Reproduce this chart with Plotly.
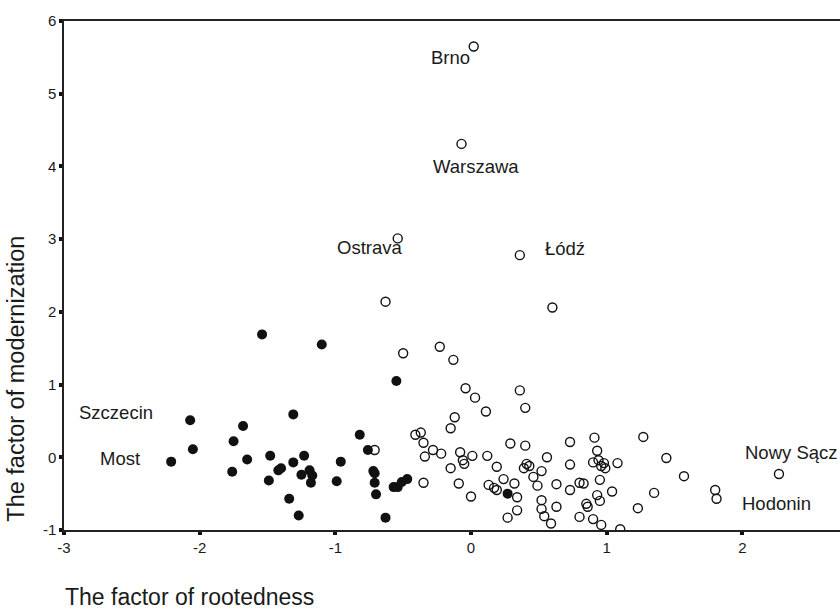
import plotly.graph_objects as go

# Filled circles
filled_x = [-2.07, -2.05, -2.21, -1.68, -1.75, -1.65, -1.76, -1.54, -1.10, -0.55, -1.31, -0.82, -0.76,
            -1.48, -1.23, -1.31, -0.96, -1.42, -1.40, -1.49, -1.25, -1.19, -1.17, -1.18, -0.99, -0.72,
            -0.71, -0.71, -0.70, -1.34, -1.27, -0.63, -0.57, -0.54, -0.51, -0.47, 0.27]
filled_y = [0.51, 0.11, -0.06, 0.43, 0.22, -0.03, -0.20, 1.69, 1.55, 1.05, 0.59, 0.31, 0.10,
            0.02, 0.02, -0.07, -0.06, -0.18, -0.15, -0.32, -0.24, -0.18, -0.25, -0.35, -0.33, -0.19,
            -0.22, -0.35, -0.51, -0.57, -0.80, -0.83, -0.41, -0.41, -0.34, -0.30, -0.50]

# Open circles
open_x = [0.02, -0.07, -0.54, 0.36, -0.63, 0.60,
          -0.71, -0.50, -0.23, -0.13, -0.41, -0.37, -0.35, -0.28, -0.22, -0.34, -0.35, -0.15, -0.15,
          -0.04, 0.03, 0.11, -0.12, 0.36, 0.40, -0.08, -0.06, -0.05, 0.01, 0.12, -0.09, 0.00, 0.19,
          0.24, 0.13, 0.17, 0.19, 0.29, 0.32, 0.34, 0.34, 0.27, 0.40, 0.41, 0.43, 0.39, 0.46, 0.49,
          0.52, 0.56, 0.52, 0.52, 0.54, 0.59, 0.63, 0.63, 0.73, 0.73, 0.73, 0.80, 0.83, 0.80, 0.85,
          0.86, 0.91, 0.93, 0.90, 0.94, 0.98, 0.96, 0.99, 0.95, 0.93, 0.95, 1.04, 0.90, 0.96, 1.08,
          1.10, 1.27, 1.44, 1.35, 1.23, 1.57, 1.80, 1.81, 2.27]
open_y = [5.65, 4.31, 3.01, 2.78, 2.14, 2.06,
          0.10, 1.43, 1.52, 1.34, 0.31, 0.34, 0.20, 0.10, 0.05, 0.01, -0.35, -0.15, 0.40,
          0.95, 0.82, 0.63, 0.55, 0.92, 0.68, 0.07, -0.04, -0.09, 0.02, 0.02, -0.36, -0.54, -0.13,
          -0.30, -0.38, -0.42, -0.45, 0.19, -0.36, -0.55, -0.73, -0.83, 0.16, -0.09, -0.12, -0.15, -0.27, -0.39,
          -0.19, 0.00, -0.59, -0.71, -0.81, -0.91, -0.68, -0.37, 0.21, -0.10, -0.45, -0.35, -0.36, -0.82, -0.64,
          -0.68, 0.27, 0.09, -0.07, -0.04, -0.08, -0.12, -0.15, -0.31, -0.52, -0.60, -0.47, -0.85, -0.93, -0.08,
          -0.99, 0.28, -0.01, -0.49, -0.70, -0.26, -0.45, -0.57, -0.23]

city_labels = ["Brno", "Warszawa", "Ostrava", "Łódź", "Szczecin", "Most", "Nowy Sącz", "Hodonin"]

x_ticks = [-3, -2, -1, 0, 1, 2]
y_ticks = [-1, 0, 1, 2, 3, 4, 5, 6]

FONT = "Liberation Sans, Arial, sans-serif"
TXT = "#1a1a1a"

fig = go.Figure()
fig.add_trace(go.Scatter(
    x=open_x, y=open_y, mode="markers",
    marker=dict(symbol="circle-open", size=9, color="#111", line=dict(width=1.4, color="#111")),
    showlegend=False, hoverinfo="skip"))
fig.add_trace(go.Scatter(
    x=filled_x, y=filled_y, mode="markers",
    marker=dict(symbol="circle", size=10, color="#111"),
    showlegend=False, hoverinfo="skip"))

label_pos = {
    "Brno": (-0.15, 5.50),
    "Warszawa": (0.04, 4.00),
    "Ostrava": (-0.75, 2.89),
    "Łódź": (0.69, 2.87),
    "Szczecin": (-2.62, 0.62),
    "Most": (-2.59, -0.01),
    "Nowy Sącz": (2.36, 0.07),
    "Hodonin": (2.25, -0.63),
}
for name in city_labels:
    lx, ly = label_pos[name]
    fig.add_annotation(x=lx, y=ly, text=name, showarrow=False, xanchor="center", yanchor="middle",
                       font=dict(family=FONT, size=18.5, color=TXT))

fig.add_annotation(xref="paper", yref="paper", x=-0.062, y=0.297, text="The factor of modernization",
                   textangle=-90, showarrow=False, xanchor="center", yanchor="middle",
                   font=dict(family=FONT, size=23.5, color=TXT))
fig.add_annotation(xref="paper", yref="paper", x=-0.001, y=-0.1316, text="The factor of rootedness",
                   showarrow=False, xanchor="left", yanchor="middle",
                   font=dict(family=FONT, size=23, color=TXT))

fig.update_layout(
    width=840, height=611,
    margin=dict(l=64, r=0, t=21, b=81),
    paper_bgcolor="white", plot_bgcolor="white",
    xaxis=dict(range=[-3, 2.72], tickvals=x_ticks, ticktext=[str(v) for v in x_ticks],
               showgrid=False, zeroline=False, showline=True, linecolor="#222", linewidth=1.5,
               mirror=True, ticks="outside", ticklen=3, tickwidth=4, tickcolor="#111",
               tickfont=dict(family=FONT, size=15, color=TXT)),
    yaxis=dict(range=[-1, 6], tickvals=y_ticks, ticktext=[str(v) for v in y_ticks],
               showgrid=False, zeroline=False, showline=True, linecolor="#222", linewidth=1.5,
               mirror=False, ticks="outside", ticklen=3, tickwidth=4, tickcolor="#111",
               tickfont=dict(family=FONT, size=15, color=TXT)),
)

fig.write_html("out.html")
